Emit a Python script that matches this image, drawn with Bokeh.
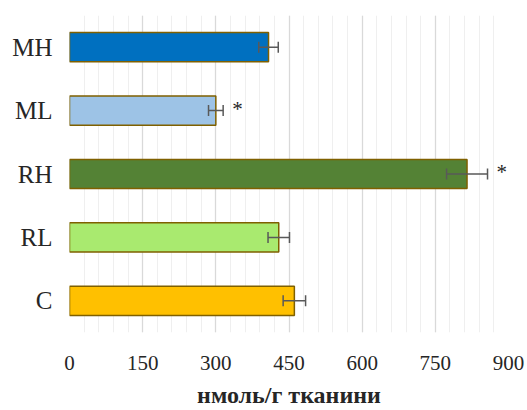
from bokeh.plotting import figure
from bokeh.models import (ColumnDataSource, FactorRange, Range1d, FixedTicker,
                          Whisker, TeeHead)
from bokeh.core.properties import value
from bokeh.embed import file_html
from bokeh.resources import INLINE

# Group means and errors (nmol per g tissue)
groups = ["MH", "ML", "RH", "RL", "C"]
means = [408, 300, 815, 429, 461]
errors = [20, 15, 42, 22, 23]
colors = ["#0070C0", "#9DC3E6", "#548235", "#A9EA6F", "#FFC000"]
marks = ["", "*", "*", "", ""]
x_ticks = [0, 150, 300, 450, 600, 750, 900]

src = ColumnDataSource(dict(
    g=groups, m=means,
    lo=[m - e for m, e in zip(means, errors)],
    hi=[m + e for m, e in zip(means, errors)],
    c=colors, mark=marks,
))

SERIF = "'Liberation Serif', 'Times New Roman', serif"

p = figure(width=527, height=410, output_backend="svg", toolbar_location=None,
           y_range=FactorRange(factors=list(reversed(groups)), range_padding=0),
           x_range=Range1d(0, 900),
           min_border_left=69, min_border_right=19, min_border_top=15,
           min_border_bottom=73)
p.outline_line_color = None
p.background_fill_color = "white"

p.hbar(y="g", right="m", left=0, height=0.46, source=src, fill_color="c",
       line_color="#7F6000", line_width=1.5)

head = dict(size=11, line_color="#595959", line_width=1.5)
p.add_layout(Whisker(source=src, base="g", lower="lo", upper="hi",
                     dimension="width", level="overlay",
                     line_color="#595959", line_width=1.5,
                     lower_head=TeeHead(**head), upper_head=TeeHead(**head)))

p.text(x="hi", y="g", text="mark", source=src, x_offset=9, y_offset=-2,
       text_align="left", text_baseline="middle", text_color="#262626",
       text_font=value(SERIF), text_font_size="21px")

ticker = FixedTicker(ticks=x_ticks, minor_ticks=list(range(0, 901, 30)))
p.xaxis.ticker = ticker
p.xgrid.ticker = ticker
p.xgrid.grid_line_color = "#D9D9D9"
p.xgrid.grid_line_width = 1.3
p.xgrid.minor_grid_line_color = "#EFEFEF"
p.xgrid.minor_grid_line_width = 1
p.ygrid.grid_line_color = None

p.xaxis.axis_line_color = None
p.xaxis.major_tick_line_color = None
p.xaxis.minor_tick_line_color = None
p.xaxis.major_label_standoff = 17
p.xaxis.major_label_text_font = SERIF
p.xaxis.major_label_text_font_size = "21px"
p.xaxis.major_label_text_color = "#262626"
p.xaxis.axis_label = "нмоль/г тканини"
p.xaxis.axis_label_text_font = SERIF
p.xaxis.axis_label_text_font_style = "bold"
p.xaxis.axis_label_text_font_size = "24px"
p.xaxis.axis_label_text_color = "#262626"
p.xaxis.axis_label_standoff = 9

p.yaxis.axis_line_color = None
p.yaxis.major_tick_line_color = None
p.yaxis.major_label_standoff = 11
p.yaxis.major_label_text_font = SERIF
p.yaxis.major_label_text_font_size = "25px"
p.yaxis.major_label_text_color = "#262626"

open("out.html", "w").write(file_html(p, INLINE))
